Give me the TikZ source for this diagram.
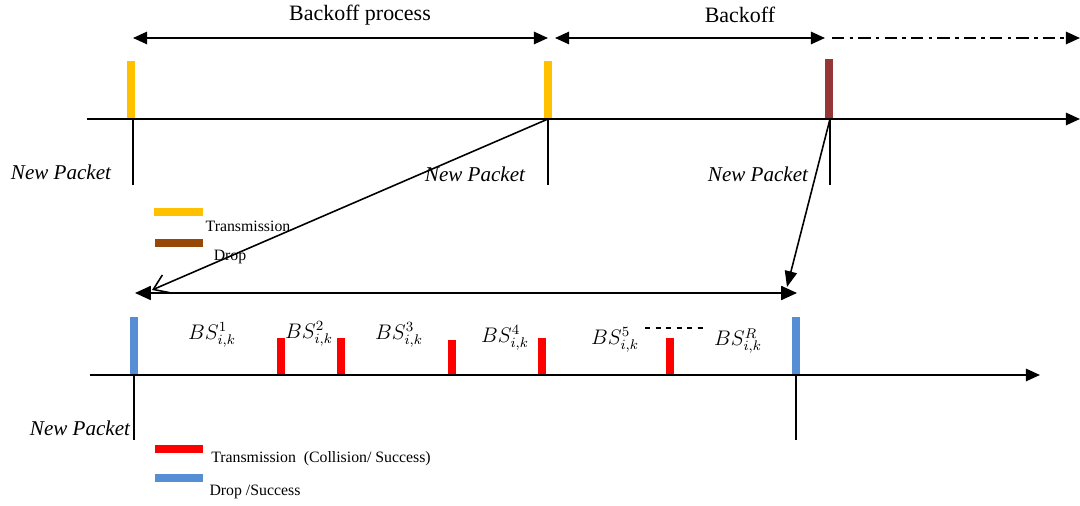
\documentclass[tikz,border=0pt]{standalone}
\usepackage{fontspec}
\setmainfont{Liberation Serif}
\usetikzlibrary{arrows.meta}
\definecolor{txyellow}{HTML}{FFC000}
\definecolor{dropred}{HTML}{953735}
\definecolor{dropbrown}{HTML}{974806}
\definecolor{txred}{HTML}{FF0000}
\definecolor{okblue}{HTML}{558ED5}
\tikzset{
  tip/.tip={Triangle[length=8pt,width=7pt]},
  axis/.style={line width=1.1pt, -tip},
  span/.style={line width=1.1pt, tip-tip},
  bar/.style={line width=4pt},
  tick/.style={line width=0.8pt},
  legbar/.style={line width=4pt},
  pkt/.style={font=\itshape\fontsize{12}{14}\selectfont},
  ttl/.style={font=\fontsize{12.5}{15}\selectfont},
  leg/.style={font=\fontsize{9}{10}\selectfont},
  bs/.style={font=\fontsize{12}{14}\selectfont, inner sep=0pt}
}
\begin{document}
\begin{tikzpicture}[x=0.02cm,y=-0.02cm]
  \useasboundingbox (0,0) rectangle (1080,506);
  % upper time line
  \draw
    (360,15) node[ttl] (bp){Backoff process}
    (740,15) node[ttl] (bo){Backoff}
    (61,172) node[pkt] (np1){New Packet}
    (475,174) node[pkt] (np2){New Packet}
    (758,174) node[pkt] (np3){New Packet};
  \coordinate (a0) at (87,119);
  \coordinate (a1) at (1080,119);
  \coordinate (t1) at (133,119);
  \coordinate (t2) at (548,119);
  \coordinate (t3) at (830,119);
  \draw[axis] (a0) -- (a1);
  \draw[span] (133,38) -- (548,38);
  \draw[span] (555,38) -- (825,38);
  \draw[line width=1.1pt, dash pattern=on 7pt off 3pt on 2pt off 3pt, -tip] (832,38) -- (1080,38);
  \draw[bar, txyellow] (131,61) -- (131,118);
  \draw[bar, txyellow] (548,61) -- (548,118);
  \draw[line width=4.6pt, dropred] (829,59) -- (829,118);
  \begin{scope}[tick]
    \draw (t1) -- ++(0,66);
    \draw (t2) -- ++(0,66);
    \draw (t3) -- ++(0,66);
  \end{scope}
  % legend, upper
  \draw[legbar, txyellow] (154,212) -- (203,212);
  \draw[legbar, dropbrown] (155,243) -- (203,243);
  \draw
    (248,226) node[leg] (lt){Transmission}
    (230,257) node[leg] (ld){Drop};
  % lower time line
  \coordinate (b0) at (90,375);
  \coordinate (b1) at (1040,375);
  \coordinate (s1) at (134,375);
  \coordinate (s2) at (796,375);
  \coordinate (e1) at (152,290);
  \coordinate (e2) at (787,287);
  \draw[line width=0.9pt, -{Straight Barb[length=8pt,width=11pt]}] (t2) -- (e1);
  \draw[line width=0.9pt, -{Triangle[length=9pt,width=7pt]}] (t3) -- (e2);
  \draw[axis] (b0) -- (b1);
  \draw[line width=0.9pt, {Triangle[length=9pt,width=8pt]}-{Triangle[length=9pt,width=8pt]}] (135,293) -- (797,293);
  \draw[bar, okblue] (134,317) -- (134,374);
  \draw[bar, okblue] (796,317) -- (796,374);
  \foreach \x/\y in {281/338, 341/338, 452/340, 542/338, 670/338}
    \draw[bar, txred] (\x,\y) -- (\x,374);
  \draw
    (212,335) node[bs] (bs1){$BS^1_{i,k}$}
    (309,334) node[bs] (bs2){$BS^2_{i,k}$}
    (399,335) node[bs] (bs3){$BS^3_{i,k}$}
    (505,338) node[bs] (bs4){$BS^4_{i,k}$}
    (615,340) node[bs] (bs5){$BS^5_{i,k}$}
    (738,341) node[bs] (bsR){$BS^R_{i,k}$};
  \draw[line width=0.9pt, dashed] (645,328) -- (705,328);
  \begin{scope}[tick]
    \draw (s1) -- ++(0,65);
    \draw (s2) -- ++(0,65);
  \end{scope}
  \draw (80,428) node[pkt] (np4){New Packet};
  % legend, lower
  \draw[legbar, txred] (155,449) -- (203,449);
  \draw[legbar, okblue] (155,478) -- (203,478);
  \draw
    (321,459) node[leg] (lc){Transmission\ \ (Collision/ Success)}
    (255,492) node[leg] (ls){Drop /Success};
\end{tikzpicture}
\end{document}
